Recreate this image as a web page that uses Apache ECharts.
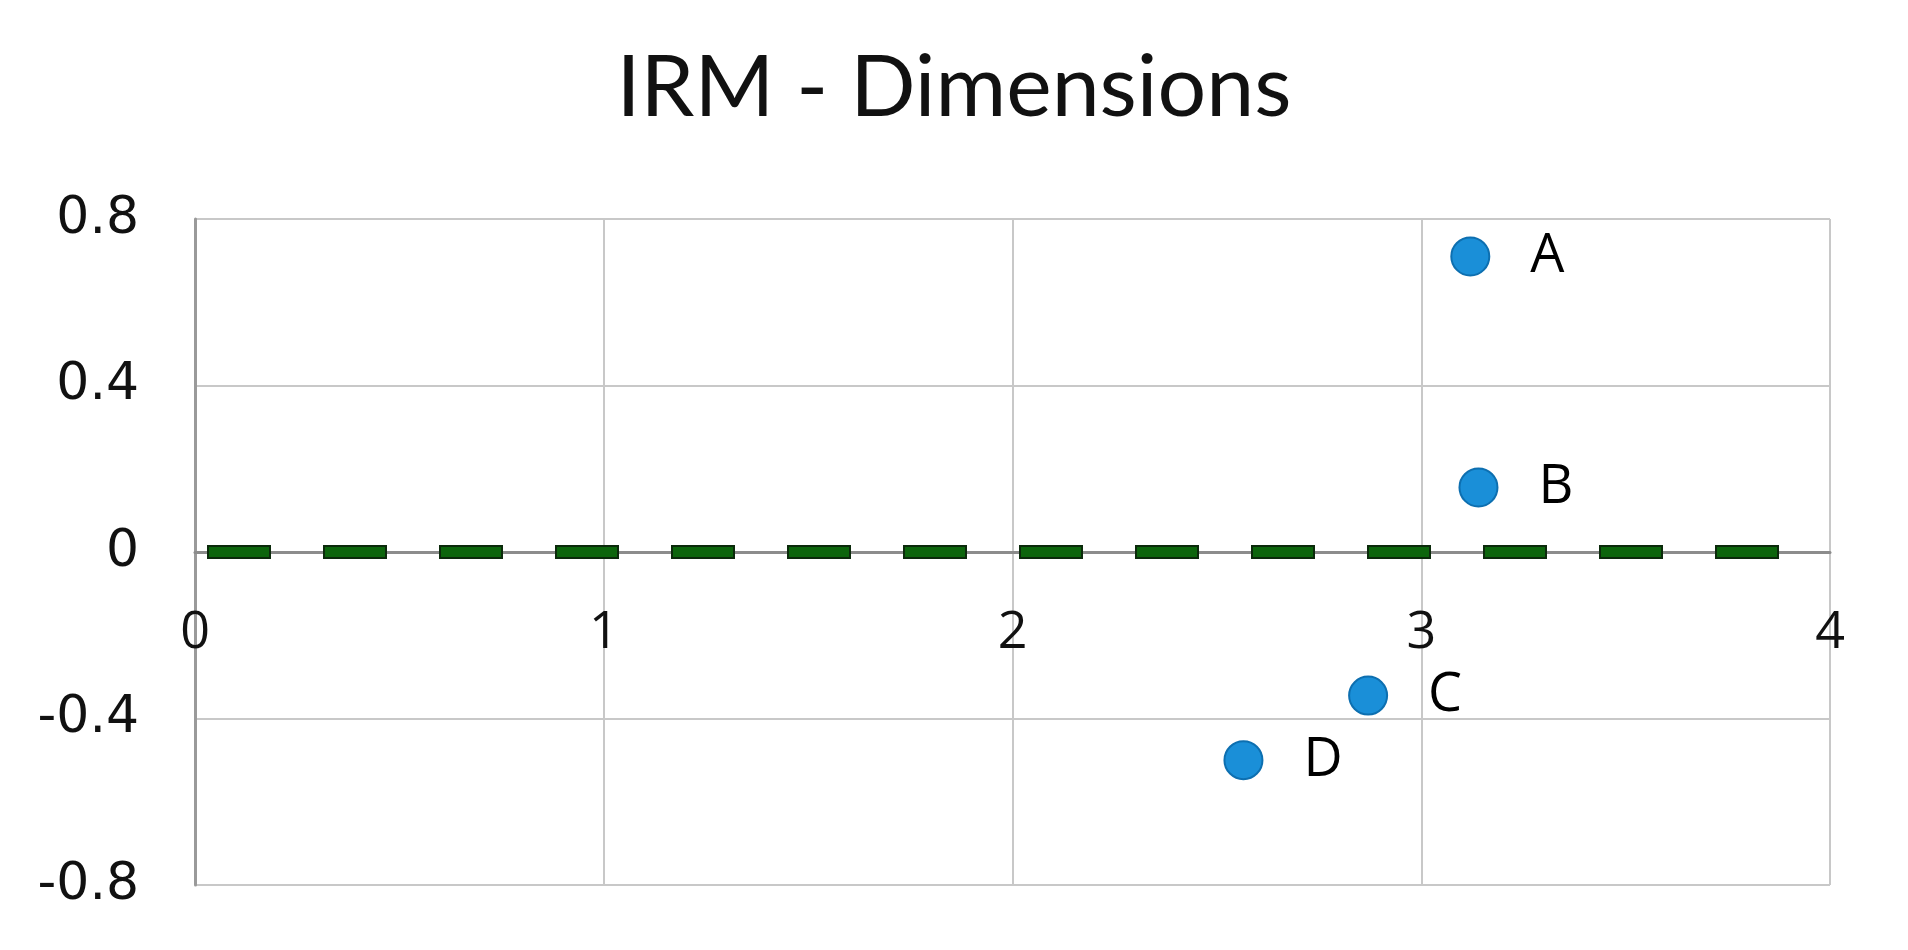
<!DOCTYPE html>
<html>
<head>
<meta charset="utf-8">
<script src="https://cdn.jsdelivr.net/npm/echarts@6/dist/echarts.min.js"></script>
<style>
  html, body { margin: 0; padding: 0; background: #fff; }
  #container { width: 1908px; height: 950px; }
</style>
</head>
<body>
<div id="container"></div>
<script>
// points
var names = ['A', 'B', 'C', 'D'];
var xVals = [3.12, 3.14, 2.87, 2.565];
var yVals = [0.71, 0.155, -0.345, -0.50];

// y = 0 reference line (green dashed)
var refX = [0, 4];
var refY = [0, 0];

var xTicks = [0, 1, 2, 3, 4];
var yTicks = [-0.8, -0.4, 0, 0.4, 0.8];

var dom = document.getElementById('container');
var myChart = echarts.init(dom);

var pts = [];
for (var i = 0; i < names.length; i++) {
    pts.push({ name: names[i], value: [xVals[i], yVals[i]] });
}
var ref = [];
for (var j = 0; j < refX.length; j++) {
    ref.push([refX[j], refY[j]]);
}

var gridTop = 219, gridBottom = 65;
// x axis sits on y = 0, which is the middle of the plot (-0.8 .. 0.8)
var plotH = 950 - gridTop - gridBottom;

var option = {
    backgroundColor: '#fff',
    animation: false,
    title: {
        text: 'IRM - Dimensions',
        left: 'center',
        top: 40,
        textStyle: {
            fontFamily: 'Lato',
            fontWeight: 'normal',
            fontSize: 86,
            color: '#111'
        }
    },
    grid: {
        left: 195,
        right: 78,
        top: gridTop,
        bottom: gridBottom
    },
    xAxis: {
        type: 'value',
        min: xTicks[0],
        max: xTicks[xTicks.length - 1],
        interval: 1,
        position: 'bottom',
        offset: -plotH / 2,
        axisLine: { onZero: false, lineStyle: { color: '#8c8c8c', width: 3 } },
        axisTick: { show: false },
        axisLabel: {
            margin: 55,
            fontFamily: 'Open Sans',
            fontSize: 52,
            color: '#111'
        },
        splitLine: { show: true, lineStyle: { color: '#c8c8c8', width: 2 } }
    },
    yAxis: {
        type: 'value',
        min: yTicks[0],
        max: yTicks[yTicks.length - 1],
        interval: 0.4,
        axisLine: { show: true, onZero: false, lineStyle: { color: '#9a9a9a', width: 3 } },
        axisTick: { show: false },
        axisLabel: {
            margin: 56,
            fontFamily: 'DejaVu Sans',
            fontSize: 52,
            color: '#111',
            formatter: function (v) { return String(Math.round(v * 10) / 10); }
        },
        splitLine: { show: true, lineStyle: { color: '#c8c8c8', width: 2 } }
    },
    series: [{
        // dark outline of the dashes
        type: 'line',
        data: ref,
        symbol: 'none',
        silent: true,
        z: 3,
        lineStyle: { color: '#0b2a0b', width: 14, type: [64, 52], dashOffset: -12, cap: 'butt' }
    }, {
        type: 'line',
        data: ref,
        symbol: 'none',
        silent: true,
        z: 4,
        lineStyle: { color: '#0c650c', width: 10, type: [60, 56], dashOffset: -14, cap: 'butt' }
    }, {
        type: 'scatter',
        data: pts,
        symbolSize: 38,
        z: 5,
        itemStyle: { color: '#1a8fd8', borderColor: '#0d6fb0', borderWidth: 2, opacity: 1 },
        label: {
            show: true,
            position: 'right',
            distance: 40,
            formatter: '{b}',
            fontFamily: 'Open Sans',
            fontSize: 54,
            color: '#000'
        }
    }]
};

if (option && typeof option === 'object') {
    myChart.setOption(option, true);
}
</script>
</body>
</html>
